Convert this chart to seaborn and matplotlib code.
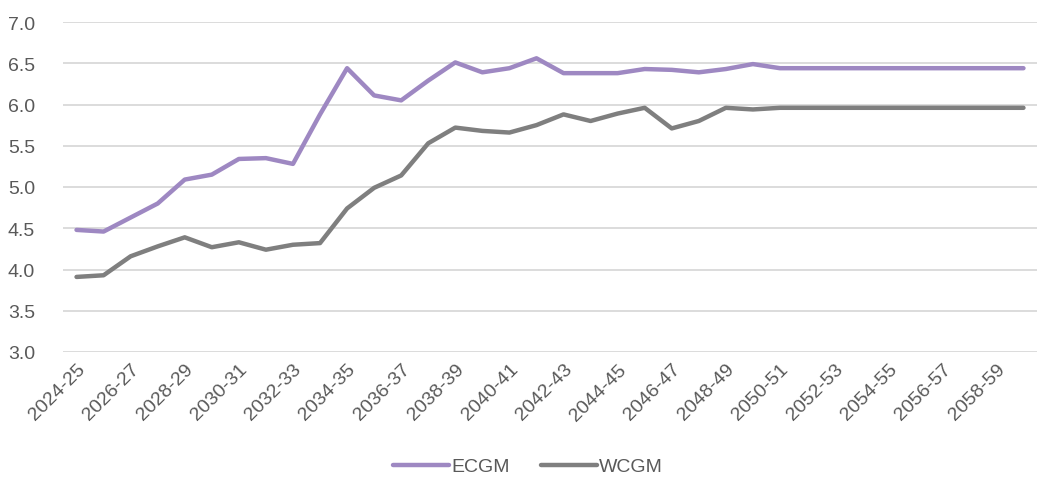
import pandas as pd
import seaborn as sns
import matplotlib.pyplot as plt
from matplotlib import font_manager

years = [f"{y}-{str(y + 1)[-2:]}" for y in range(2024, 2060)]

ecgm = [4.48, 4.46, 4.63, 4.80, 5.09, 5.15, 5.34, 5.35, 5.28, 5.88,
        6.44, 6.11, 6.05, 6.29, 6.51, 6.39, 6.44, 6.56, 6.38, 6.38,
        6.38, 6.43, 6.42, 6.39, 6.43, 6.49, 6.44, 6.44, 6.44, 6.44,
        6.44, 6.44, 6.44, 6.44, 6.44, 6.44]
wcgm = [3.91, 3.93, 4.16, 4.28, 4.39, 4.27, 4.33, 4.24, 4.30, 4.32,
        4.74, 4.99, 5.14, 5.53, 5.72, 5.68, 5.66, 5.75, 5.88, 5.80,
        5.89, 5.96, 5.71, 5.80, 5.96, 5.94, 5.96, 5.96, 5.96, 5.96,
        5.96, 5.96, 5.96, 5.96, 5.96, 5.96]

df = pd.DataFrame({'year': years * 2,
                   'value': ecgm + wcgm,
                   'series': ['ECGM'] * len(years) + ['WCGM'] * len(years)})

sns.set_style('white')
# narrow font if there is one, else plain Liberation Sans
installed = {f.name for f in font_manager.fontManager.ttflist}
narrow = 'Liberation Sans Narrow' in installed
plt.rcParams['font.family'] = ['Liberation Sans Narrow' if narrow else 'Liberation Sans', 'DejaVu Sans']
size = 15.5 if narrow else 14
text_color = '#595959'

fig = plt.figure(figsize=(10.56, 4.89), dpi=100)
ax = fig.add_axes([63 / 1056, 1 - 353 / 489, (1037 - 63) / 1056, (353 - 23) / 489])

sns.lineplot(data=df, x='year', y='value', hue='series', sort=False,
             palette={'ECGM': '#9E88C2', 'WCGM': '#7F7F7F'},
             linewidth=3.2, ax=ax)
for line in ax.get_lines():
    line.set_solid_capstyle('round')
    line.set_solid_joinstyle('round')

ax.set_ylim(3, 7)
ax.set_yticks([3.0, 3.5, 4.0, 4.5, 5.0, 5.5, 6.0, 6.5, 7.0])
ax.set_yticklabels([f"{v:.1f}" for v in ax.get_yticks()])
ax.set_xlim(-0.5, len(years) - 0.5)
ax.set_xticks(range(0, len(years), 2))
ax.set_xticklabels(years[::2], rotation=45, ha='right', rotation_mode='anchor')
ax.grid(axis='y', color='#D9D9D9', linewidth=1.3)
ax.set_axisbelow(True)
for s in ax.spines.values():
    s.set_visible(False)
ax.tick_params(axis='both', length=0, colors=text_color, labelsize=size)
ax.tick_params(axis='x', pad=6)
ax.tick_params(axis='y', pad=20)
ax.set_xlabel('')
ax.set_ylabel('')

handles, labels = ax.get_legend_handles_labels()
ax.legend_.remove()
leg = fig.legend(handles, labels, loc='lower center', bbox_to_anchor=(0.5, -0.01),
                 ncol=2, frameon=False, fontsize=size, handlelength=2.9,
                 columnspacing=1.6, handletextpad=0.1)
for t in leg.get_texts():
    t.set_color(text_color)

fig.savefig('out.png', dpi=100)
